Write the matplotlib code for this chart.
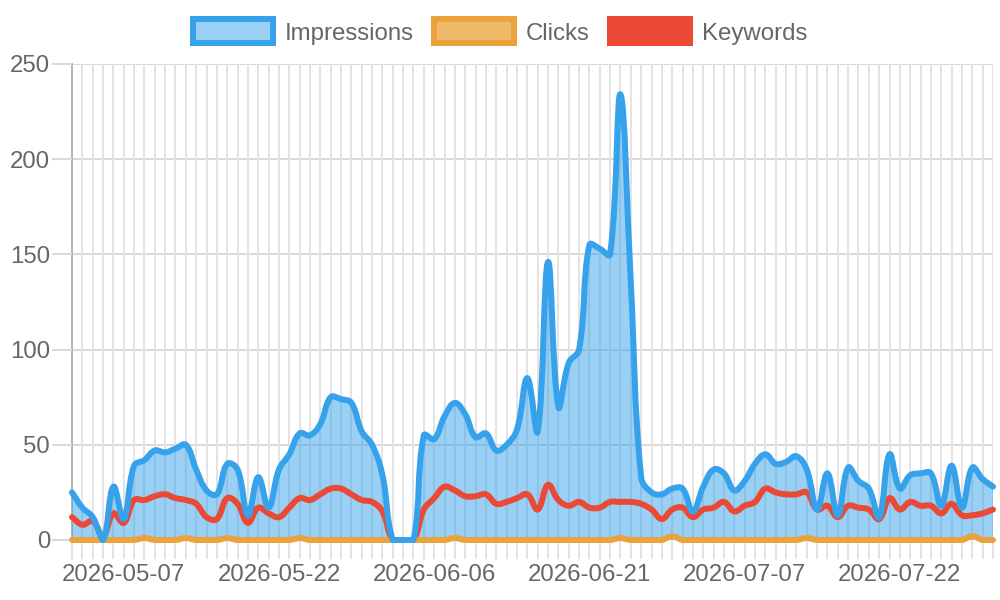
import numpy as np
import pandas as pd
import matplotlib
matplotlib.use("Agg")
import matplotlib.pyplot as plt
from matplotlib.path import Path
from matplotlib.patches import PathPatch, Rectangle

# ---------------- data ----------------
dates = [d for d in pd.date_range("2026-05-02", "2026-07-31").strftime("%Y-%m-%d")
         if d != "2026-06-30"]

impressions = [25, 17, 12, 0, 28, 11, 39, 42, 47, 46,
               48, 50, 37, 26, 24, 40, 37, 13, 33, 17,
               37, 45, 56, 55, 61, 75, 74, 72, 57, 50,
               34, 0, 0, 0, 55, 53, 65, 72, 66, 54,
               56, 47, 50, 58, 85, 57, 146, 70, 93, 100,
               155, 153, 150, 234, 135, 33, 25, 24, 27, 27,
               15, 28, 37, 35, 26, 31, 40, 45, 40, 41,
               44, 37, 16, 35, 13, 38, 31, 27, 12, 45,
               27, 34, 35, 35, 18, 39, 17, 38, 32, 28]

clicks = [0, 0, 0, 0, 0, 0, 0, 1, 0, 0,
          0, 1, 0, 0, 0, 1, 0, 0, 0, 0,
          0, 0, 1, 0, 0, 0, 0, 0, 0, 0,
          0, 0, 0, 0, 0, 0, 0, 1, 0, 0,
          0, 0, 0, 0, 0, 0, 0, 0, 0, 0,
          0, 0, 0, 1, 0, 0, 0, 0, 2, 0,
          0, 0, 0, 0, 0, 0, 0, 0, 0, 0,
          0, 1, 0, 0, 0, 0, 0, 0, 0, 0,
          0, 0, 0, 0, 0, 0, 0, 2, 0, 0]

keywords = [12, 8, 10, 2, 14, 9, 21, 21, 23, 24,
            22, 21, 19, 12, 11, 22, 19, 9, 17, 14,
            12, 17, 22, 21, 24, 27, 27, 24, 21, 20,
            15, 0, 0, 0, 16, 22, 28, 26, 23, 23,
            24, 19, 20, 22, 24, 16, 29, 21, 18, 20,
            17, 17, 20, 20, 20, 19, 16, 11, 16, 17,
            12, 16, 17, 20, 15, 18, 20, 27, 25, 24,
            24, 25, 16, 18, 12, 18, 17, 16, 11, 22,
            16, 20, 18, 18, 14, 19, 13, 13, 14, 16]

tick_labels = ["2026-05-07", "2026-05-22", "2026-06-06",
               "2026-06-21", "2026-07-07", "2026-07-22"]
y_ticks = [0, 50, 100, 150, 200, 250]

series_names = ["Impressions", "Clicks", "Keywords"]

# ---------------- style ----------------
BLUE = "#36A2EB"
BLUE_FILL = (54 / 255, 162 / 255, 235 / 255, 0.5)
ORANGE = "#EBA23A"
ORANGE_FILL = "#F0BA6B"
RED = "#EA4A35"
TXT = "#666666"
PX = 0.72  # points per pixel at dpi 100
FS = 24 * PX

plt.rcParams["font.family"] = ["Liberation Sans", "DejaVu Sans"]

W, H = 1000, 600
fig = plt.figure(figsize=(W / 100, H / 100), dpi=100)
L, R, T, B = 72, 993, 64, 540
ax = fig.add_axes([L / W, 1 - B / H, (R - L) / W, (B - T) / H])

x = np.arange(len(dates))
ax.set_xlim(0, len(dates) - 1)
ax.set_ylim(0, 250)

# grid
for yv in y_ticks[1:]:
    ax.axhline(yv, color="#D9D9D9", lw=2 * PX, zorder=0)
for xi in x[1:]:
    ax.axvline(xi, color="#E3E3E3", lw=2 * PX, zorder=0)

for s in ["top", "right", "bottom"]:
    ax.spines[s].set_visible(False)
ax.spines["left"].set_color("#B5B5B5")
ax.spines["left"].set_linewidth(2 * PX)
ax.spines["left"].set_zorder(0.5)

ax.set_yticks(y_ticks)
ax.set_yticklabels([str(v) for v in y_ticks])
ax.set_xticks(x)
ax.set_xticklabels([d if d in tick_labels else "" for d in dates])
ax.tick_params(axis="y", length=20 * PX, width=2 * PX, color="#DADADA",
               pad=2 * PX, labelsize=FS, labelcolor=TXT)
ax.tick_params(axis="x", length=19 * PX, width=2 * PX, color="#E3E3E3",
               pad=5 * PX, labelsize=FS, labelcolor=TXT)
ax.yaxis.get_major_ticks()[0].tick1line.set_color("#B5B5B5")
ax.xaxis.get_major_ticks()[0].tick1line.set_color("#B5B5B5")


def chart_spline(xs, ys, tension=0.4):
    pts = ax.transData.transform(np.column_stack([xs, ys]).astype(float))
    n = len(pts)
    cprev = np.zeros_like(pts)
    cnext = np.zeros_like(pts)
    for i in range(n):
        prev = pts[i - 1] if i > 0 else pts[i]
        cur = pts[i]
        nxt = pts[i + 1] if i < n - 1 else pts[i]
        d01 = np.hypot(*(cur - prev))
        d12 = np.hypot(*(nxt - cur))
        tot = d01 + d12
        s01 = d01 / tot if tot > 0 else 0.0
        s12 = d12 / tot if tot > 0 else 0.0
        cprev[i] = cur - tension * s01 * (nxt - prev)
        cnext[i] = cur + tension * s12 * (nxt - prev)
    bb = ax.bbox
    for c in (cprev, cnext):
        c[:, 0] = np.clip(c[:, 0], bb.x0, bb.x1)
        c[:, 1] = np.clip(c[:, 1], bb.y0, bb.y1)
    verts = [pts[0]]
    codes = [Path.MOVETO]
    for i in range(n - 1):
        verts += [cnext[i], cprev[i + 1], pts[i + 1]]
        codes += [Path.CURVE4] * 3
    verts = ax.transData.inverted().transform(np.array(verts))
    return verts, codes


# Impressions fill
v, c = chart_spline(x, impressions)
fill_verts = np.vstack([v, [[x[-1], 0], [x[0], 0], [x[0], 0]]])
fill_codes = c + [Path.LINETO, Path.LINETO, Path.CLOSEPOLY]
ax.add_patch(PathPatch(Path(fill_verts, fill_codes), facecolor=BLUE_FILL,
                       edgecolor="none", zorder=1))

# lines
for vals, col, z in [(keywords, RED, 2), (clicks, ORANGE, 3), (impressions, BLUE, 4)]:
    v, c = chart_spline(x, vals)
    ax.add_patch(PathPatch(Path(v, c), facecolor="none", edgecolor=col,
                           lw=6 * PX, capstyle="round", joinstyle="round",
                           zorder=z, clip_on=False))

# legend (manual, in pixel coordinates)
def px2fig(px, py):
    return px / W, 1 - py / H

legend_items = [(series_names[0], BLUE, BLUE_FILL, 193),
                (series_names[1], ORANGE, ORANGE_FILL, 434),
                (series_names[2], RED, RED, 610)]
for name, edge, face, bx in legend_items:
    x0, y0 = px2fig(bx, 43)
    fig.add_artist(Rectangle((x0, y0), 80 / W, 24 / H, transform=fig.transFigure,
                             facecolor=face, edgecolor=edge, lw=6 * PX))
    tx, ty = px2fig(bx + 92, 40)
    fig.text(tx, ty, name, fontsize=FS, color=TXT, ha="left", va="baseline")

fig.savefig("out.png", dpi=100)
